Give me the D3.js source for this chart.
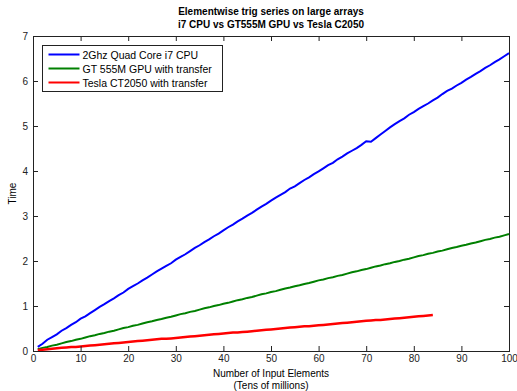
<!DOCTYPE html>
<html>
<head>
<meta charset="utf-8">
<script src="https://cdn.jsdelivr.net/npm/d3@7"></script>
<style>
  body { margin: 0; background: #fff; }
  svg { display: block; font-family: "Liberation Sans", Arial, sans-serif; }
</style>
</head>
<body>
<div id="chart"></div>
<script>
// Number of input elements (tens of millions)
const elements = d3.range(1, 101);

const cpuTimes = [
  0.09, 0.16, 0.25, 0.31, 0.37, 0.45, 0.51, 0.58, 0.64, 0.72,
  0.77, 0.84, 0.91, 0.98, 1.04, 1.11, 1.17, 1.24, 1.30, 1.38,
  1.44, 1.50, 1.57, 1.63, 1.70, 1.77, 1.83, 1.89, 1.95, 2.03,
  2.09, 2.15, 2.22, 2.29, 2.35, 2.42, 2.48, 2.55, 2.61, 2.68,
  2.75, 2.81, 2.88, 2.94, 3.01, 3.07, 3.14, 3.21, 3.27, 3.34,
  3.41, 3.47, 3.53, 3.61, 3.66, 3.73, 3.80, 3.86, 3.93, 3.99,
  4.06, 4.13, 4.18, 4.26, 4.32, 4.39, 4.45, 4.51, 4.58, 4.66,
  4.65, 4.73, 4.81, 4.89, 4.97, 5.04, 5.11, 5.17, 5.25, 5.31,
  5.38, 5.44, 5.50, 5.57, 5.63, 5.71, 5.78, 5.83, 5.90, 5.96,
  6.03, 6.09, 6.16, 6.22, 6.29, 6.35, 6.42, 6.48, 6.55, 6.62
];

const gt555Times = [
  0.04, 0.07, 0.09, 0.12, 0.14, 0.17, 0.20, 0.22, 0.25, 0.27,
  0.30, 0.33, 0.35, 0.38, 0.40, 0.43, 0.45, 0.48, 0.51, 0.53,
  0.56, 0.58, 0.61, 0.64, 0.66, 0.69, 0.71, 0.74, 0.76, 0.79,
  0.82, 0.84, 0.87, 0.89, 0.92, 0.95, 0.97, 1.00, 1.02, 1.05,
  1.07, 1.10, 1.13, 1.15, 1.18, 1.20, 1.23, 1.26, 1.28, 1.31,
  1.33, 1.36, 1.39, 1.41, 1.44, 1.46, 1.49, 1.51, 1.54, 1.57,
  1.59, 1.62, 1.64, 1.67, 1.69, 1.72, 1.75, 1.77, 1.80, 1.82,
  1.85, 1.88, 1.90, 1.93, 1.95, 1.98, 2.00, 2.03, 2.05, 2.08,
  2.11, 2.13, 2.16, 2.18, 2.21, 2.23, 2.26, 2.29, 2.31, 2.34,
  2.36, 2.39, 2.41, 2.44, 2.47, 2.49, 2.52, 2.54, 2.57, 2.60
];

const teslaTimes = [
  0.02, 0.03, 0.04, 0.05, 0.06, 0.07, 0.08, 0.09, 0.09, 0.10,
  0.11, 0.12, 0.13, 0.14, 0.15, 0.16, 0.17, 0.18, 0.19, 0.20,
  0.21, 0.22, 0.23, 0.24, 0.25, 0.26, 0.27, 0.27, 0.28, 0.29,
  0.30, 0.31, 0.32, 0.33, 0.34, 0.35, 0.36, 0.37, 0.38, 0.39,
  0.40, 0.41, 0.41, 0.42, 0.43, 0.44, 0.45, 0.46, 0.47, 0.48,
  0.49, 0.50, 0.51, 0.52, 0.53, 0.54, 0.55, 0.55, 0.56, 0.57,
  0.58, 0.59, 0.60, 0.61, 0.62, 0.63, 0.64, 0.65, 0.66, 0.67,
  0.68, 0.69, 0.69, 0.70, 0.71, 0.72, 0.73, 0.74, 0.75, 0.76,
  0.77, 0.78, 0.79, 0.80
];

const seriesNames = ['2Ghz Quad Core i7 CPU', 'GT 555M GPU with transfer', 'Tesla CT2050 with transfer'];
const seriesColors = ['#0000ff', '#008000', '#ff0000'];
const xTicks = [0, 10, 20, 30, 40, 50, 60, 70, 80, 90, 100];
const yTicks = [0, 1, 2, 3, 4, 5, 6, 7];

const width = 517, height = 391;
const margin = { top: 36, right: 8, bottom: 40, left: 33 };
const innerW = width - margin.left - margin.right;
const innerH = height - margin.top - margin.bottom;

const svg = d3.select('#chart').append('svg')
  .attr('width', width)
  .attr('height', height);

const x = d3.scaleLinear().domain([0, 100]).range([0, innerW]);
const y = d3.scaleLinear().domain([0, 7]).range([innerH, 0]);

const g = svg.append('g').attr('transform', `translate(${margin.left},${margin.top})`);

// Series lines
const series = [cpuTimes, gt555Times, teslaTimes];
const line = d3.line()
  .x((d, i) => x(elements[i]))
  .y(d => y(d));

series.forEach((vals, k) => {
  g.append('path')
    .datum(vals)
    .attr('fill', 'none')
    .attr('stroke', seriesColors[k])
    .attr('stroke-width', k === 2 ? 2.5 : 2)
    .attr('d', line);
});

// Axes with inward ticks on all sides (matlab box style)
const tickLen = 5;
const fmt = d3.format('d');
const styleAxis = sel => {
  sel.select('.domain').remove();
  sel.selectAll('line').attr('stroke', '#222');
  sel.selectAll('text').attr('fill', '#222').style('font-size', '10px');
};

g.append('g')
  .attr('transform', `translate(0,${innerH})`)
  .call(d3.axisBottom(x).tickValues(xTicks).tickSize(-tickLen).tickPadding(4).tickFormat(fmt))
  .call(styleAxis);

g.append('g')
  .call(d3.axisTop(x).tickValues(xTicks).tickSize(-tickLen).tickFormat(''))
  .call(styleAxis);

g.append('g')
  .call(d3.axisLeft(y).tickValues(yTicks).tickSize(-tickLen).tickPadding(5).tickFormat(fmt))
  .call(styleAxis);

g.append('g')
  .attr('transform', `translate(${innerW},0)`)
  .call(d3.axisRight(y).tickValues(yTicks).tickSize(-tickLen).tickFormat(''))
  .call(styleAxis);

g.append('rect')
  .attr('x', 0.5).attr('y', 0.5)
  .attr('width', innerW).attr('height', innerH)
  .attr('fill', 'none')
  .attr('stroke', '#222')
  .attr('stroke-width', 1);

// Title
const cx = margin.left + innerW / 2;
svg.append('text')
  .attr('x', cx).attr('y', 15)
  .attr('text-anchor', 'middle')
  .style('font-size', '10px').style('font-weight', 'bold')
  .text('Elementwise trig series on large arrays');
svg.append('text')
  .attr('x', cx).attr('y', 28)
  .attr('text-anchor', 'middle')
  .style('font-size', '10px').style('font-weight', 'bold')
  .text('i7 CPU vs GT555M GPU vs Tesla C2050');

// Axis labels
svg.append('text')
  .attr('x', cx).attr('y', 377)
  .attr('text-anchor', 'middle')
  .style('font-size', '10px')
  .text('Number of Input Elements');
svg.append('text')
  .attr('x', cx).attr('y', 389)
  .attr('text-anchor', 'middle')
  .style('font-size', '10px')
  .text('(Tens of millions)');
svg.append('text')
  .attr('transform', `translate(16,${margin.top + innerH / 2}) rotate(-90)`)
  .attr('text-anchor', 'middle')
  .style('font-size', '10px')
  .text('Time');

// Legend
const legend = svg.append('g').attr('transform', 'translate(42.5,45.5)');
legend.append('rect')
  .attr('width', 180).attr('height', 46)
  .attr('fill', '#fff').attr('stroke', '#222');
seriesNames.forEach((name, k) => {
  const ly = 9 + k * 14;
  legend.append('line')
    .attr('x1', 6).attr('x2', 37)
    .attr('y1', ly).attr('y2', ly)
    .attr('stroke', seriesColors[k]).attr('stroke-width', 2);
  legend.append('text')
    .attr('x', 40).attr('y', ly + 4)
    .style('font-size', '10.5px')
    .text(name);
});
</script>
</body>
</html>
